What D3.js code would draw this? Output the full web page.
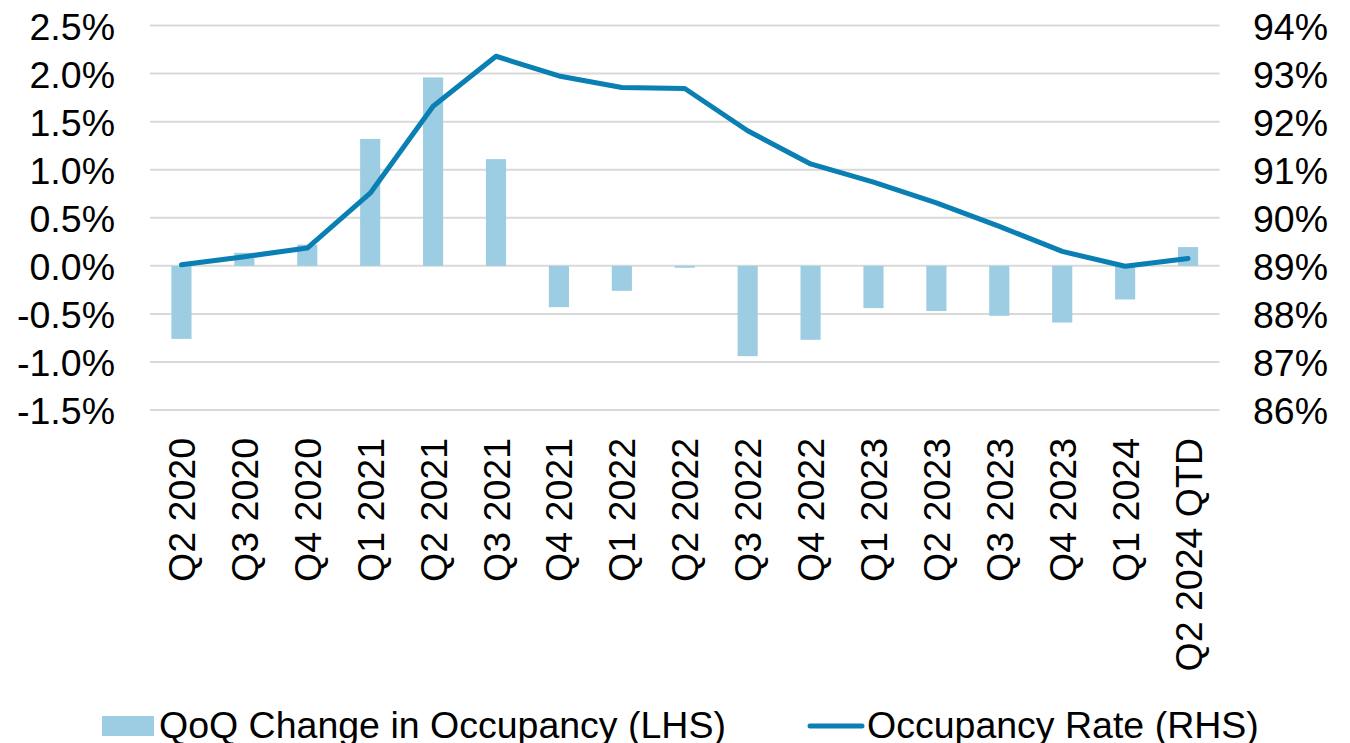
<!DOCTYPE html>
<html>
<head>
<meta charset="utf-8">
<script src="https://cdn.jsdelivr.net/npm/d3@7"></script>
<style>
  html, body { margin: 0; padding: 0; background: #fff; overflow: hidden; }
  svg text { font-family: "Liberation Sans", Arial, sans-serif; fill: #000; }
</style>
</head>
<body>
<svg id="chart" width="1350" height="743"></svg>
<script>
"use strict"

// quarters on the x axis
var quarters = ["Q2 2020", "Q3 2020", "Q4 2020", "Q1 2021", "Q2 2021", "Q3 2021",
                "Q4 2021", "Q1 2022", "Q2 2022", "Q3 2022", "Q4 2022", "Q1 2023",
                "Q2 2023", "Q3 2023", "Q4 2023", "Q1 2024", "Q2 2024 QTD"];

// QoQ change in occupancy, % (left axis, bars)
var qoqChange = [-0.76, 0.135, 0.22, 1.32, 1.96, 1.11,
                 -0.43, -0.26, -0.02, -0.94, -0.77, -0.44,
                 -0.47, -0.52, -0.59, -0.35, 0.195];

// occupancy rate, % (right axis, line)
var occupancy = [89.02, 89.19, 89.37, 90.51, 92.32, 93.36,
                 92.95, 92.71, 92.69, 91.81, 91.12, 90.74,
                 90.31, 89.82, 89.30, 88.99, 89.15];

var leftTicks  = [-1.5, -1.0, -0.5, 0.0, 0.5, 1.0, 1.5, 2.0, 2.5];
var rightTicks = [86, 87, 88, 89, 90, 91, 92, 93, 94];

var barColor  = "#9dcde2";
var lineColor = "#0a7fb4";

var svg = d3.select("#chart");

var plotLeft = 150, plotRight = 1219.5;
var plotTop = 25.5, plotBottom = 410;

var x = d3.scaleBand()
  .domain(quarters)
  .range([plotLeft, plotRight])
  .paddingInner(0.68)
  .paddingOuter(0.34);

var yL = d3.scaleLinear().domain([-1.5, 2.5]).range([plotBottom, plotTop]);
var yR = d3.scaleLinear().domain([86, 94]).range([plotBottom, plotTop]);

// gridlines
svg.append("g")
  .selectAll("line")
  .data(leftTicks)
  .enter()
  .append("line")
  .attr("x1", plotLeft)
  .attr("x2", plotRight)
  .attr("y1", function(d){ return yL(d); })
  .attr("y2", function(d){ return yL(d); })
  .style("stroke", "#d9d9d9")
  .style("stroke-width", 2);

// left axis (plain hyphen for negatives, like the original)
var leftAxis = svg.append("g")
  .attr("transform", "translate(" + (plotLeft - 35) + ",0)")
  .call(d3.axisLeft(yL).tickValues(leftTicks).tickSize(0).tickPadding(0)
          .tickFormat(function(d){ return d.toFixed(1) + "%"; }));
leftAxis.select(".domain").remove();
leftAxis.selectAll("text").style("font-size", "37.5px").attr("dy", "0.36em");

// right axis
var rightAxis = svg.append("g")
  .attr("transform", "translate(" + 1253 + ",0)")
  .call(d3.axisRight(yR).tickValues(rightTicks).tickSize(0).tickPadding(0)
          .tickFormat(function(d){ return d + "%"; }));
rightAxis.select(".domain").remove();
rightAxis.selectAll("text").style("font-size", "37.5px").attr("dy", "0.36em");

// bars
svg.append("g")
  .selectAll("rect")
  .data(qoqChange)
  .enter()
  .append("rect")
  .attr("x", function(d, i){ return x(quarters[i]); })
  .attr("width", x.bandwidth())
  .attr("y", function(d){ return Math.min(yL(d), yL(0)); })
  .attr("height", function(d){ return Math.abs(yL(d) - yL(0)); })
  .style("fill", barColor);

// occupancy line
var line = d3.line()
  .x(function(d, i){ return x(quarters[i]) + x.bandwidth() / 2; })
  .y(function(d){ return yR(d); });

svg.append("path")
  .datum(occupancy)
  .attr("d", line)
  .style("fill", "none")
  .style("stroke", lineColor)
  .style("stroke-width", 5)
  .style("stroke-linejoin", "round")
  .style("stroke-linecap", "round");

// x labels, rotated
svg.append("g")
  .selectAll("text")
  .data(quarters)
  .enter()
  .append("text")
  .text(function(d){ return d; })
  .attr("text-anchor", "end")
  .attr("dy", "0.36em")
  .attr("transform", function(d){
    return "translate(" + (x(d) + x.bandwidth() / 2) + ",438) rotate(-90)";
  })
  .style("font-size", "37.5px");

// legend
var legend = svg.append("g");
legend.append("rect")
  .attr("x", 102).attr("y", 716)
  .attr("width", 52).attr("height", 20)
  .style("fill", barColor);
legend.append("text")
  .attr("x", 159).attr("y", 738)
  .text("QoQ Change in Occupancy (LHS)")
  .style("font-size", "37.5px");
legend.append("line")
  .attr("x1", 810).attr("x2", 862)
  .attr("y1", 726).attr("y2", 726)
  .style("stroke", lineColor)
  .style("stroke-width", 5)
  .style("stroke-linecap", "round");
legend.append("text")
  .attr("x", 867).attr("y", 738)
  .text("Occupancy Rate (RHS)")
  .style("font-size", "37.5px");
</script>
</body>
</html>
